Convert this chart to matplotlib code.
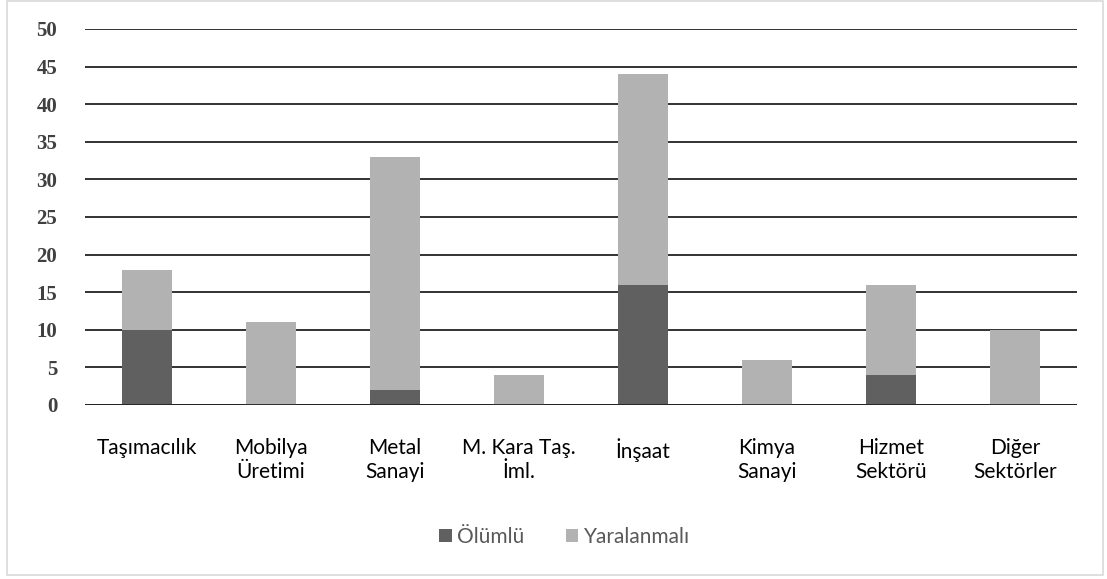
import numpy as np
import matplotlib
matplotlib.use("Agg")
import matplotlib.pyplot as plt
from matplotlib.patches import Rectangle

# Data
sectors = ['Taşımacılık', 'Mobilya\nÜretimi', 'Metal\nSanayi', 'M. Kara Taş.\nİml.',
           'İnşaat', 'Kimya\nSanayi', 'Hizmet\nSektörü', 'Diğer\nSektörler']
olumlu = [10, 0, 2, 0, 16, 0, 4, 0]
yaralanmali = [8, 11, 31, 4, 28, 6, 12, 10]

W, H = 1107, 579
fig = plt.figure(figsize=(W / 100, H / 100), dpi=100)
ax = fig.add_axes([85 / W, 1 - 405 / H, (1077 - 85) / W, (405 - 29) / H])

# outer frame of the chart
fig.patches.append(Rectangle((7 / W, 4 / H), 1096 / W, 574 / H, transform=fig.transFigure,
                             fill=False, edgecolor='#d9d9d9', linewidth=1.2))

x = np.arange(len(sectors))
w = 0.40
ax.bar(x, olumlu, w, color='#606060', label='Ölümlü', zorder=3)
ax.bar(x, yaralanmali, w, bottom=olumlu, color='#b2b2b2', label='Yaralanmalı', zorder=3)

ax.set_xlim(-0.5, len(sectors) - 0.5)
ax.set_ylim(0, 50)
ax.set_yticks(range(0, 51, 5))
ax.yaxis.grid(True, color='#222222', linewidth=1.3, zorder=0)
for s in ax.spines.values():
    s.set_visible(False)
ax.axhline(0, color='#222222', linewidth=1.3, zorder=4)
ax.tick_params(length=0)
ax.tick_params(axis='y', pad=20)
ax.set_yticklabels([str(v) for v in range(0, 51, 5)], family='Liberation Serif',
                   fontweight='bold', fontsize=15, color='#404040')
ax.set_xticks(x)
ax.set_xticklabels(sectors, family='Lato', fontsize=15, color='#000000', linespacing=1.25)
ax.tick_params(axis='x', pad=24)

leg = fig.legend(loc='center', bbox_to_anchor=(0.51, 1 - 537 / H), ncol=2, frameon=False,
                 prop={'family': 'Lato', 'size': 15}, handlelength=0.6, handleheight=0.6,
                 handletextpad=0.25, columnspacing=2.0)
for t in leg.get_texts():
    t.set_color('#595959')

fig.savefig('out.png', dpi=100)
